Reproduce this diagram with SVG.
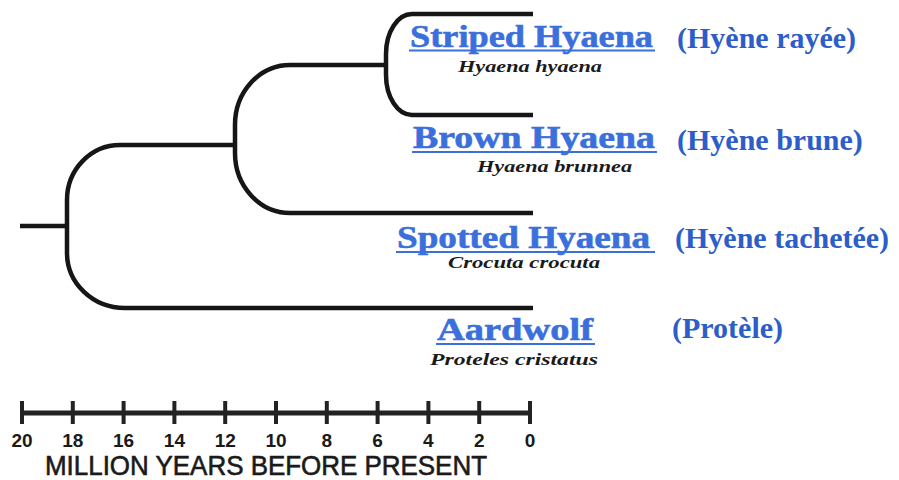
<svg xmlns="http://www.w3.org/2000/svg" width="899" height="480" viewBox="0 0 899 480">
<style>
.br{fill:none;stroke:#161616;stroke-width:4.5;stroke-linecap:butt}
.cn{font-family:"Liberation Serif","Times New Roman",serif;font-weight:bold;font-size:32px;fill:#3a6fdc;stroke:#3a6fdc;stroke-width:0.6}
.ul{stroke:#3a6fdc;stroke-width:2}
.sci{font-family:"Liberation Serif","Times New Roman",serif;font-weight:bold;font-style:italic;font-size:16px;fill:#1a1a1a}
.fr{font-family:"Liberation Serif","Times New Roman",serif;font-weight:bold;font-size:30px;fill:#2b5ec9}
.ax{stroke:#222;stroke-width:5}
.tk{stroke:#222;stroke-width:4}
.num{font-family:"Liberation Sans",Arial,sans-serif;font-weight:bold;font-size:19px;fill:#1a1a1a;text-anchor:middle}
.ttl{font-family:"Liberation Sans",Arial,sans-serif;font-size:27px;fill:#1a1a1a;stroke:#1a1a1a;stroke-width:0.6}
</style>
<g id="connectors">
<path class="br" d="M20,226 H67"/>
<path class="br" d="M120,145 A53,55 0 0 0 67,200 V253 A58,55 0 0 0 125,308 H533"/>
<path class="br" d="M120,145 H235"/>
<path class="br" d="M290,65 A55,60 0 0 0 235,125 V153 A55,60 0 0 0 290,213 H533"/>
<path class="br" d="M290,65 H386"/>
<path class="br" d="M412,14 A26,40 0 0 0 386,54 V75 A26,40 0 0 0 412,115 H533"/>
<path class="br" d="M412,14 H533"/>
</g>
<g id="striped">
<text class="cn" x="410" y="47" textLength="243" lengthAdjust="spacingAndGlyphs">Striped Hyaena</text>
<line class="ul" x1="409" y1="50.5" x2="655" y2="50.5"/>
<text class="sci" x="458" y="72" textLength="144" lengthAdjust="spacingAndGlyphs">Hyaena hyaena</text>
<text class="fr" x="677" y="48">(Hyène rayée)</text>
</g>
<g id="brown">
<text class="cn" x="413" y="148" textLength="242" lengthAdjust="spacingAndGlyphs">Brown Hyaena</text>
<line class="ul" x1="412" y1="152" x2="657" y2="152"/>
<text class="sci" x="477" y="172" textLength="155" lengthAdjust="spacingAndGlyphs">Hyaena brunnea</text>
<text class="fr" x="677" y="150">(Hyène brune)</text>
</g>
<g id="spotted">
<text class="cn" x="397" y="248" textLength="253" lengthAdjust="spacingAndGlyphs">Spotted Hyaena</text>
<line class="ul" x1="396" y1="252" x2="655" y2="252"/>
<text class="sci" x="448" y="268" textLength="152" lengthAdjust="spacingAndGlyphs">Crocuta crocuta</text>
<text class="fr" x="675" y="248">(Hyène tachetée)</text>
</g>
<g id="aardwolf">
<text class="cn" x="437" y="340" textLength="156" lengthAdjust="spacingAndGlyphs">Aardwolf</text>
<line class="ul" x1="436" y1="344" x2="595" y2="344"/>
<text class="sci" x="430" y="365" textLength="168" lengthAdjust="spacingAndGlyphs">Proteles cristatus</text>
<text class="fr" x="672" y="338">(Protèle)</text>
</g>
<g id="axis">
<line class="ax" x1="22" y1="413" x2="530" y2="413"/>
<line class="tk" x1="22" y1="401" x2="22" y2="424"/>
<line class="tk" x1="72.8" y1="401" x2="72.8" y2="424"/>
<line class="tk" x1="123.6" y1="401" x2="123.6" y2="424"/>
<line class="tk" x1="174.4" y1="401" x2="174.4" y2="424"/>
<line class="tk" x1="225.2" y1="401" x2="225.2" y2="424"/>
<line class="tk" x1="276" y1="401" x2="276" y2="424"/>
<line class="tk" x1="326.8" y1="401" x2="326.8" y2="424"/>
<line class="tk" x1="377.6" y1="401" x2="377.6" y2="424"/>
<line class="tk" x1="428.4" y1="401" x2="428.4" y2="424"/>
<line class="tk" x1="479.2" y1="401" x2="479.2" y2="424"/>
<line class="tk" x1="530" y1="401" x2="530" y2="424"/>
<text class="num" x="22" y="447">20</text>
<text class="num" x="72.8" y="447">18</text>
<text class="num" x="123.6" y="447">16</text>
<text class="num" x="174.4" y="447">14</text>
<text class="num" x="225.2" y="447">12</text>
<text class="num" x="276" y="447">10</text>
<text class="num" x="326.8" y="447">8</text>
<text class="num" x="377.6" y="447">6</text>
<text class="num" x="428.4" y="447">4</text>
<text class="num" x="479.2" y="447">2</text>
<text class="num" x="530" y="447">0</text>
<text class="ttl" x="45" y="475" textLength="442" lengthAdjust="spacingAndGlyphs">MILLION YEARS BEFORE PRESENT</text>
</g>
</svg>
